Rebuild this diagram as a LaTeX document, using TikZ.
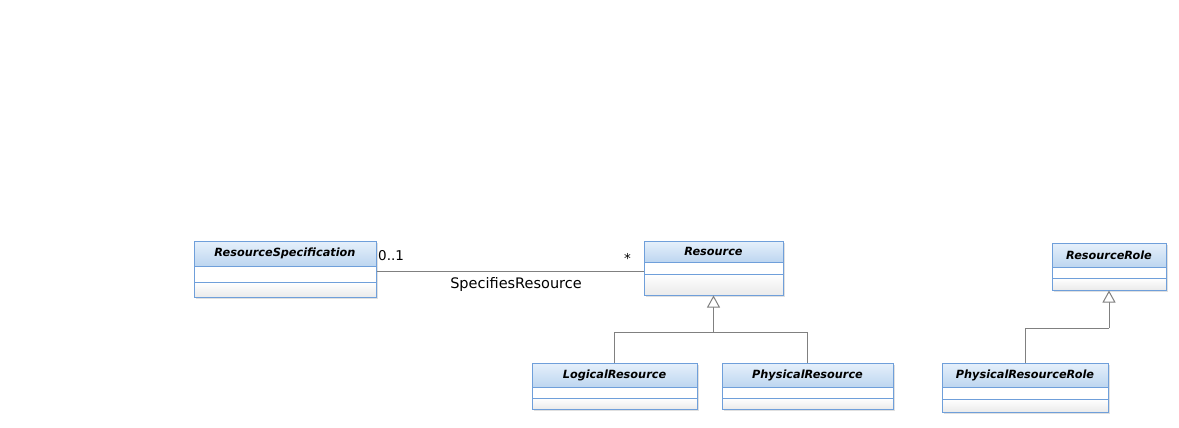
\documentclass[tikz,border=0pt]{standalone}
\usepackage{fontspec}
\setmainfont{DejaVu Sans}
\usetikzlibrary{arrows.meta,fit}
\definecolor{hdrtop}{HTML}{E6F0FB}
\definecolor{hdrbot}{HTML}{BDD6F0}
\definecolor{boxblue}{HTML}{6F9FDA}
\definecolor{linegrey}{HTML}{808080}
\tikzset{
  classframe/.style={draw=boxblue, line width=1pt, inner sep=0pt},
  classname/.style={font=\fontsize{11.3}{13}\selectfont\bfseries\itshape, inner sep=0pt},
  conn/.style={draw=linegrey, line width=1pt},
  gen/.style={conn, -{Triangle[open, length=12pt, width=13pt, fill=white]}},
  lbl/.style={font=\fontsize{14.5}{16}\selectfont, inner sep=0pt},
  mult/.style={font=\fontsize{13.5}{15}\selectfont, inner sep=0pt},
}
\newcommand{\umlclass}[8]{%
  \fill[black!12] (#2+2,#3+2) rectangle (#4+2,#7+2);
  \shade[top color=hdrtop, bottom color=hdrbot] (#2,#3) rectangle (#4,#5);
  \fill[white] (#2,#5) rectangle (#4,#6);
  \shade[top color=white, bottom color=black!8] (#2,#6) rectangle (#4,#7);
  \draw[draw=boxblue, line width=1pt] (#2,#5) -- (#4,#5) (#2,#6) -- (#4,#6);
  \coordinate (#1nw) at (#2,#3);
  \coordinate (#1se) at (#4,#7);
  \node[classframe, fit=(#1nw)(#1se)] (#1) {};
  \node[classname] (#1h) at ({(#2+#4)/2},{(#3+#5)/2}) {#8};
}
\begin{document}
\begin{tikzpicture}[x=1pt,y=-1pt]
\useasboundingbox[fill=white] (0,0) rectangle (1179,428);
\umlclass{rs}{194}{241}{376}{266}{282}{297}{ResourceSpecification}
\umlclass{res}{644}{241}{783}{262}{274}{295}{Resource}
\umlclass{lr}{532}{363}{697}{387}{398}{409}{LogicalResource}
\umlclass{pr}{722}{363}{893}{387}{398}{409}{PhysicalResource}
\umlclass{rr}{1052}{243}{1166}{267}{278}{290}{ResourceRole}
\umlclass{prr}{942}{363}{1108}{387}{399}{412}{PhysicalResourceRole}
% association
\draw[conn] (rs.east |- 0,271) -- (res.west |- 0,271);
\node[mult, anchor=west] (m1) at (378,256) {0..1};
\node[mult, anchor=east] (m2) at (631,258) {*};
\node[lbl] (an) at (516,284) {SpecifiesResource};
% generalization Resource
\coordinate (j1) at (res.south |- 0,332);
\draw[conn] (lr.north) |- (j1);
\draw[conn] (pr.north) |- (j1);
\draw[gen] (j1) -- (res.south);
% generalization ResourceRole
\coordinate (j2) at (rr.south |- 0,328);
\draw[conn] (prr.north) |- (j2);
\draw[gen] (j2) -- (rr.south);
\end{tikzpicture}
\end{document}
